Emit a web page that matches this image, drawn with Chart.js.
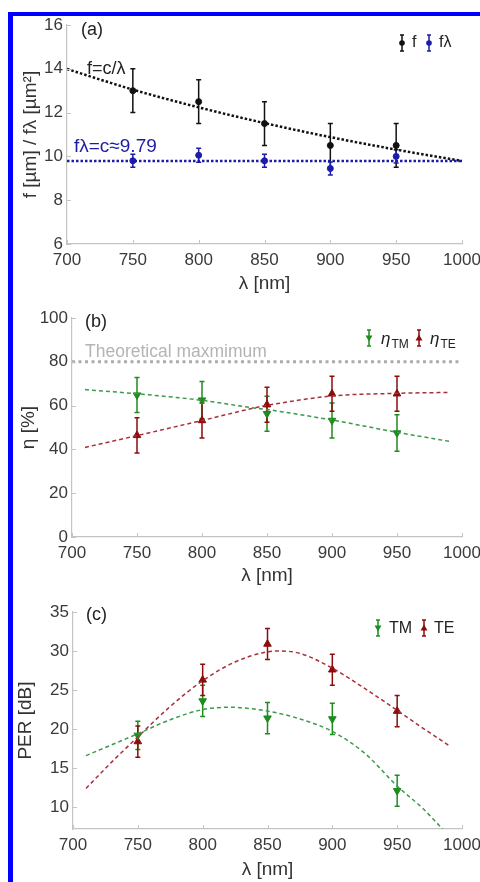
<!DOCTYPE html>
<html>
<head>
<meta charset="utf-8">
<script src="https://cdn.jsdelivr.net/npm/chart.js@4.4.0/dist/chart.umd.min.js"></script>
<style>
  body { margin: 0; background: #fff; width: 480px; height: 882px; position: relative; overflow: hidden; }
  .panel { position: absolute; left: 0; width: 510px; }
  #borderLeft { position: absolute; left: 8px; top: 12px; width: 5px; height: 870px; background: #0000ff; }
  #borderTop { position: absolute; left: 8px; top: 12px; width: 472px; height: 4px; background: #0000ff; }
</style>
</head>
<body>
<div class="panel" style="top:0;height:295px"><canvas id="chartA"></canvas></div>
<div class="panel" style="top:295px;height:292px"><canvas id="chartB"></canvas></div>
<div class="panel" style="top:587px;height:295px"><canvas id="chartC"></canvas></div>
<div id="borderLeft"></div>
<div id="borderTop"></div>
<script>
// measured wavelengths (nm)
const wavelengths = [750, 800, 850, 900, 950];

// (a) focal length and f*lambda
const fValues = [13.0, 12.5, 11.5, 10.5, 10.5];
const fErrors = [1.0, 1.0, 1.0, 1.0, 1.0];
const fLambdaValues = [9.8, 10.05, 9.8, 9.45, 10.0];
const fLambdaErrors = [0.3, 0.32, 0.3, 0.3, 0.3];
const fitWlA = [700, 750, 800, 850, 900, 950, 1000];
const fFit = [13.99, 13.05, 12.24, 11.52, 10.88, 10.31, 9.79];
const fLambdaFit = [9.79, 9.79, 9.79, 9.79, 9.79, 9.79, 9.79];

// (b) efficiency
const etaTM = [64.8, 62.5, 56.3, 53.2, 47.5];
const etaTMErr = [8, 8.5, 8, 8, 8.3];
const etaTE = [46.4, 53.2, 60.4, 65.4, 65.4];
const etaTEErr = [8, 8, 8, 8, 8];
const fitWlB = [710, 750, 800, 840, 850, 900, 950, 990];
const etaTMFit = [67.3, 65.4, 62.4, 58.9, 58.2, 53.4, 47.8, 43.7];
const etaTEFit = [40.9, 46.3, 53.2, 58.9, 60.1, 64.4, 65.6, 66.0];
const theoryWl = [700, 1000];
const theoryMax = [80, 80];

// (c) polarization extinction ratio
const perTM = [19.2, 23.6, 21.4, 21.3, 12.1];
const perTMErr = [1.8, 2, 2, 2, 2];
const perTE = [18.4, 26.3, 30.9, 27.6, 22.3];
const perTEErr = [2, 2, 2, 2, 2];
const fitWlTE = [710, 730, 750, 775, 800, 825, 850, 860, 875, 900, 925, 950, 970, 990];
const perTEFit = [12.4, 15.8, 19.0, 22.9, 26.2, 28.6, 29.9, 30.0, 29.7, 27.8, 25.2, 22.4, 20.1, 17.9];
const fitWlTM = [710, 750, 775, 800, 820, 850, 875, 900, 925, 950, 970, 985];
const perTMFit = [16.6, 19.4, 21.2, 22.5, 22.8, 22.3, 21.3, 19.7, 16.9, 12.7, 9.8, 7.2];

const FONT = '"Liberation Sans", Arial, Helvetica, sans-serif';
Chart.defaults.font.family = FONT;
Chart.defaults.color = '#404040';
Chart.defaults.animation = false;

const BLACK = '#111111', BLUE = '#1c1ca8';
const GREEN = '#1f8c1f', GREEN_FIT = '#3c9a4a';
const RED = '#8c0c0c', RED_FIT = '#a8303a';
const AXIS = '#c4c4c4';

const pts = (xs, ys) => xs.map((x, i) => ({ x: x, y: ys[i] }));

// vertical error bars + inward tick marks
const errorBars = {
  id: 'errorBars',
  beforeDatasetsDraw(chart) {
    const { ctx, scales: { x, y } } = chart;
    chart.data.datasets.forEach(ds => {
      if (!ds.errors) return;
      ctx.save();
      ctx.strokeStyle = ds.borderColor;
      ctx.lineWidth = 1.5;
      ds.data.forEach((p, j) => {
        const px = x.getPixelForValue(p.x);
        const top = y.getPixelForValue(p.y + ds.errors[j]);
        const bot = y.getPixelForValue(p.y - ds.errors[j]);
        ctx.beginPath();
        ctx.moveTo(px, top); ctx.lineTo(px, bot);
        ctx.moveTo(px - 2.5, top); ctx.lineTo(px + 2.5, top);
        ctx.moveTo(px - 2.5, bot); ctx.lineTo(px + 2.5, bot);
        ctx.stroke();
      });
      ctx.restore();
    });
  },
  afterDraw(chart) {
    const { ctx, scales: { x, y }, chartArea: a } = chart;
    ctx.save();
    ctx.strokeStyle = AXIS;
    ctx.lineWidth = 1;
    ctx.beginPath();
    x.ticks.forEach(t => {
      const px = Math.round(x.getPixelForValue(t.value)) + 0.5;
      ctx.moveTo(px, a.bottom); ctx.lineTo(px, a.bottom - 4);
    });
    y.ticks.forEach(t => {
      const py = Math.round(y.getPixelForValue(t.value)) + 0.5;
      ctx.moveTo(a.left, py); ctx.lineTo(a.left + 4, py);
    });
    ctx.stroke();
    ctx.restore();
  }
};

function legendIcon(ctx, x, y, color, style) {
  ctx.save();
  ctx.strokeStyle = color; ctx.fillStyle = color; ctx.lineWidth = 1.5;
  ctx.beginPath();
  ctx.moveTo(x, y - 8); ctx.lineTo(x, y + 8);
  ctx.moveTo(x - 2, y - 8); ctx.lineTo(x + 2, y - 8);
  ctx.moveTo(x - 2, y + 8); ctx.lineTo(x + 2, y + 8);
  ctx.stroke();
  ctx.beginPath();
  if (style === 'circle') {
    ctx.arc(x, y, 2.8, 0, Math.PI * 2);
  } else if (style === 'down') {
    ctx.moveTo(x - 3.5, y - 2.5); ctx.lineTo(x + 3.5, y - 2.5); ctx.lineTo(x, y + 3.5);
  } else {
    ctx.moveTo(x - 3.5, y + 2.5); ctx.lineTo(x + 3.5, y + 2.5); ctx.lineTo(x, y - 3.5);
  }
  ctx.closePath();
  ctx.fill();
  ctx.restore();
}

function text(ctx, str, x, y, size, color, style) {
  ctx.save();
  ctx.font = (style || '') + ' ' + size + 'px ' + FONT;
  ctx.fillStyle = color;
  ctx.textBaseline = 'middle';
  ctx.fillText(str, x, y);
  const w = ctx.measureText(str).width;
  ctx.restore();
  return w;
}

function scales(yMin, yMax, yStep, yTitle, yWidth, xHeight, xTitlePad, yTitlePad) {
  return {
    x: {
      type: 'linear', min: 700, max: 1000,
      ticks: { stepSize: 50, padding: 6, font: { size: 17 }, color: '#3a3a3a', maxRotation: 0, callback: v => String(v) },
      grid: { display: false, drawTicks: false },
      border: { display: true, color: AXIS, width: 1.2 },
      title: { display: true, text: 'λ [nm]', font: { size: 19 }, color: '#333', padding: { top: 0, bottom: xTitlePad } },
      afterFit: s => { s.height = xHeight; }
    },
    y: {
      type: 'linear', min: yMin, max: yMax,
      ticks: { stepSize: yStep, padding: 4, font: { size: 17 }, color: '#3a3a3a', includeBounds: false, callback: v => String(v) },
      grid: { display: false, drawTicks: false },
      border: { display: true, color: AXIS, width: 1.2 },
      title: { display: true, text: yTitle, font: { size: 19 }, color: '#333', padding: { top: yTitlePad, bottom: 0 } },
      afterFit: s => { s.width = yWidth; }
    }
  };
}

function fitLine(xs, ys, color, width, dash) {
  return {
    data: pts(xs, ys), showLine: true, borderColor: color, borderWidth: width,
    borderDash: dash, pointRadius: 0, cubicInterpolationMode: 'monotone', fill: false
  };
}

function markers(ys, errs, color, style, rotation) {
  return {
    data: pts(wavelengths, ys), errors: errs, showLine: false,
    backgroundColor: color, borderColor: color, pointStyle: style,
    pointRotation: rotation || 0, pointRadius: style === 'circle' ? 3 : 4.4, borderWidth: 1
  };
}

// canvases are 510px wide so the right padding (48px) leaves room for the "1000" label,
// which gets clipped by the 480px page like in the original figure
const baseOptions = (padding, sc) => ({
  responsive: true, maintainAspectRatio: false,
  layout: { padding: padding },
  plugins: { legend: { display: false }, tooltip: { enabled: false } },
  scales: sc
});

const annotationsA = {
  id: 'annA',
  afterDraw(chart) {
    const { ctx, chartArea: a } = chart;
    text(ctx, '(a)', a.left + 14, 30, 18, '#222');
    text(ctx, 'f=c/λ', a.left + 20, 69, 18, '#222');
    text(ctx, 'fλ=c≈9.79', a.left + 7, 147, 19, BLUE);
    legendIcon(ctx, 402, 43, BLACK, 'circle');
    text(ctx, 'f', 412, 43, 16, '#222');
    legendIcon(ctx, 429, 43, BLUE, 'circle');
    text(ctx, 'fλ', 439, 43, 16, '#222');
  }
};

const annotationsB = {
  id: 'annB',
  afterDraw(chart) {
    const { ctx, chartArea: a } = chart;
    text(ctx, '(b)', a.left + 13, 27, 18, '#222');
    text(ctx, 'Theoretical maxmimum', a.left + 13, 57, 17.5, '#b4b4b4');
    legendIcon(ctx, 369, 43, GREEN, 'down');
    let w = text(ctx, 'η', 381, 44, 17, '#222', 'italic');
    text(ctx, 'TM', 381 + w + 1, 50, 12, '#222');
    legendIcon(ctx, 419, 43, RED, 'up');
    w = text(ctx, 'η', 430, 44, 17, '#222', 'italic');
    text(ctx, 'TE', 430 + w + 1, 50, 12, '#222');
  }
};

const annotationsC = {
  id: 'annC',
  afterDraw(chart) {
    const { ctx, chartArea: a } = chart;
    text(ctx, '(c)', a.left + 13, 28, 18, '#222');
    legendIcon(ctx, 378, 41, GREEN, 'down');
    text(ctx, 'TM', 389, 42, 16, '#222');
    legendIcon(ctx, 424, 41, RED, 'up');
    text(ctx, 'TE', 434, 42, 16, '#222');
  }
};

new Chart(document.getElementById('chartA'), {
  type: 'scatter',
  data: {
    datasets: [
      fitLine(fitWlA, fLambdaFit, BLUE, 2.5, [2.5, 2]),
      fitLine(fitWlA, fFit, BLACK, 2.5, [2.5, 2]),
      markers(fValues, fErrors, BLACK, 'circle'),
      markers(fLambdaValues, fLambdaErrors, BLUE, 'circle')
    ]
  },
  options: baseOptions({ left: 14, right: 48, top: 25, bottom: 0 },
    scales(6, 16, 2, 'f [µm] / fλ [µm²]', 53, 51, 0, 5)),
  plugins: [errorBars, annotationsA]
});

new Chart(document.getElementById('chartB'), {
  type: 'scatter',
  data: {
    datasets: [
      fitLine(theoryWl, theoryMax, '#acacac', 3, [3, 3.5]),
      fitLine(fitWlB, etaTMFit, GREEN_FIT, 1.5, [4, 3]),
      fitLine(fitWlB, etaTEFit, RED_FIT, 1.5, [4, 3]),
      markers(etaTM, etaTMErr, GREEN, 'triangle', 180),
      markers(etaTE, etaTEErr, RED, 'triangle', 0)
    ]
  },
  options: baseOptions({ left: 14, right: 48, top: 23, bottom: 0 },
    scales(0, 100, 20, 'η [%]', 58, 50, 0, 3)),
  plugins: [errorBars, annotationsB]
});

new Chart(document.getElementById('chartC'), {
  type: 'scatter',
  data: {
    datasets: [
      fitLine(fitWlTM, perTMFit, GREEN_FIT, 1.5, [4, 3]),
      fitLine(fitWlTE, perTEFit, RED_FIT, 1.5, [4, 3]),
      markers(perTM, perTMErr, GREEN, 'triangle', 180),
      markers(perTE, perTEErr, RED, 'triangle', 0)
    ]
  },
  options: baseOptions({ left: 14, right: 48, top: 25, bottom: 0 },
    scales(7.2, 35, 5, 'PER [dB]', 59, 53, 1, 0)),
  plugins: [errorBars, annotationsC]
});
</script>
</body>
</html>
